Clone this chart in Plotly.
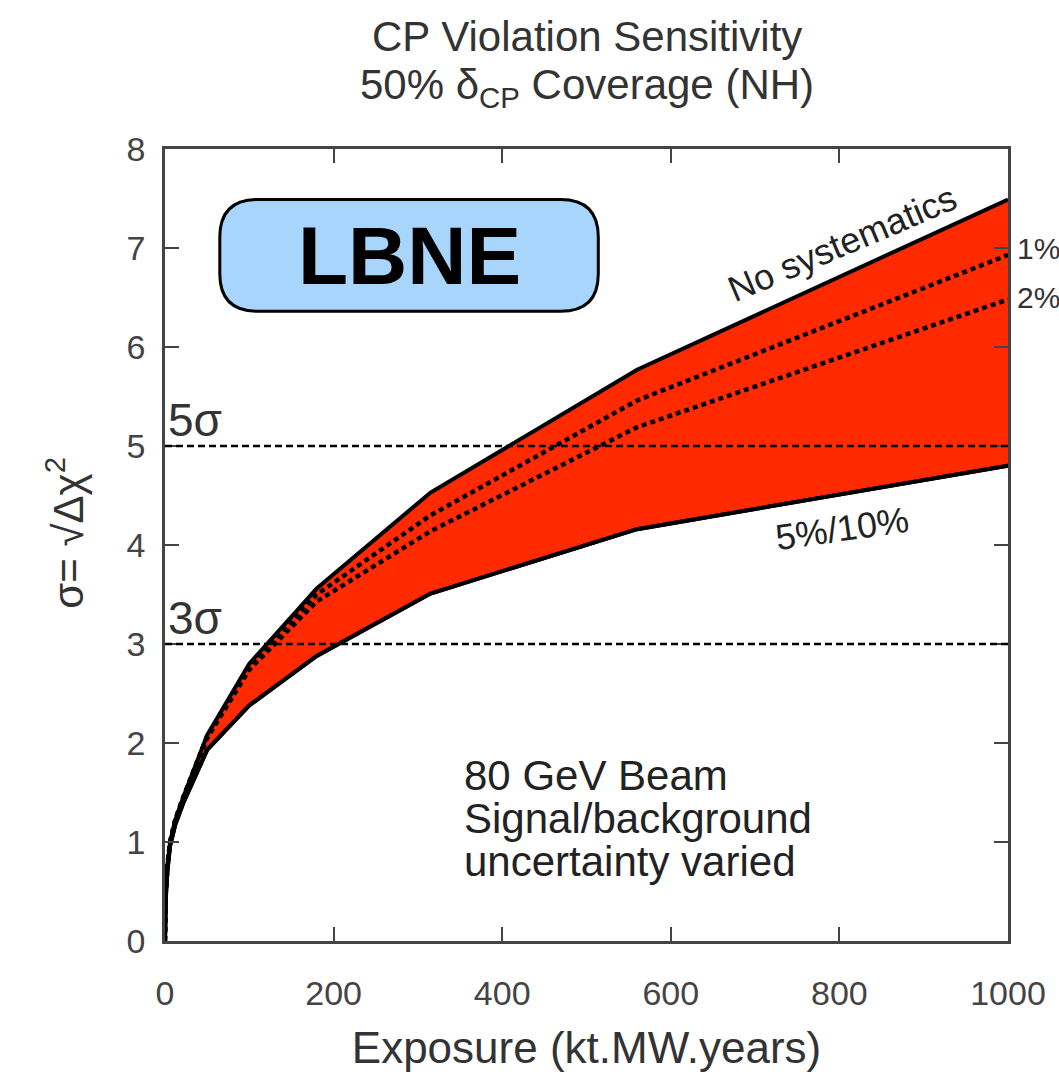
import plotly.graph_objects as go

# ---- data ----
exposure = [0, 1, 3, 6, 12, 22, 50, 100, 180, 315, 560, 1000]
no_syst = [0, 0.5, 0.78, 1.0, 1.22, 1.46, 2.08, 2.80, 3.56, 4.53, 5.77, 7.49]
syst_1pct = [0, 0.5, 0.78, 1.0, 1.22, 1.46, 2.07, 2.78, 3.50, 4.30, 5.46, 6.93]
syst_2pct = [0, 0.5, 0.78, 1.0, 1.22, 1.46, 2.05, 2.74, 3.43, 4.14, 5.19, 6.48]
syst_5_10 = [0, 0.45, 0.72, 0.96, 1.17, 1.40, 1.93, 2.38, 2.88, 3.51, 4.16, 4.80]
sigma_levels = [3, 5]
sigma_labels = ["3σ", "5σ"]
x_ticks = [0, 200, 400, 600, 800, 1000]
y_ticks = [0, 1, 2, 3, 4, 5, 6, 7, 8]
title_lines = ["CP Violation Sensitivity", "50% δ<sub>CP</sub> Coverage (NH)"]
info_lines = ["80 GeV Beam", "Signal/background", "uncertainty varied"]

RED = "#ff2a00"
FONT = "Liberation Sans, Arial, Helvetica, sans-serif"

fig = go.Figure()

fig.add_trace(go.Scatter(x=exposure, y=syst_5_10, mode="lines",
                         line=dict(color="black", width=4), showlegend=False,
                         hoverinfo="skip"))
fig.add_trace(go.Scatter(x=exposure, y=no_syst, mode="lines", fill="tonexty",
                         fillcolor=RED, line=dict(color="black", width=4),
                         showlegend=False, hoverinfo="skip"))
fig.add_trace(go.Scatter(x=exposure, y=syst_5_10, mode="lines",
                         line=dict(color="black", width=4), showlegend=False,
                         hoverinfo="skip"))
for ys in (syst_1pct, syst_2pct):
    fig.add_trace(go.Scatter(x=exposure, y=ys, mode="lines",
                             line=dict(color="black", width=4.5, dash="5px,4px"),
                             showlegend=False, hoverinfo="skip"))

shapes = []
for lv in sigma_levels:
    shapes.append(dict(type="line", xref="paper", x0=0, x1=1, yref="y", y0=lv, y1=lv,
                       line=dict(color="black", width=2.5, dash="7px,4px"), layer="above"))

# rounded LBNE box
x0, x1, y0, y1 = 65, 514, 6.36, 7.49
rx, ry = 45, 0.38
path = (f"M {x0+rx},{y0} L {x1-rx},{y0} Q {x1},{y0} {x1},{y0+ry} "
        f"L {x1},{y1-ry} Q {x1},{y1} {x1-rx},{y1} L {x0+rx},{y1} "
        f"Q {x0},{y1} {x0},{y1-ry} L {x0},{y0+ry} Q {x0},{y0} {x0+rx},{y0} Z")
shapes.append(dict(type="path", path=path, xref="x", yref="y",
                   fillcolor="#a8d5fb", line=dict(color="black", width=3), layer="above"))

annotations = [
    dict(text="σ= √Δχ<sup>2</sup>", xref="paper", yref="paper", x=-0.118, y=0.515,
         textangle=-90, showarrow=False, xanchor="center", yanchor="middle",
         font=dict(family=FONT, size=42, color="#333333")),
    dict(text="<b>LBNE</b>", xref="x", yref="y", x=(x0 + x1) / 2, y=(y0 + y1) / 2,
         showarrow=False, font=dict(family=FONT, size=82, color="black")),
    dict(text="No systematics", xref="x", yref="y", x=803, y=7.05, textangle=-23,
         showarrow=False, font=dict(family=FONT, size=36, color="#222222")),
    dict(text="5%/10%", xref="x", yref="y", x=803, y=4.17, textangle=-8,
         showarrow=False, font=dict(family=FONT, size=36, color="#222222")),
    dict(text="1%", xref="paper", yref="y", x=1.008, y=7.0, xanchor="left",
         showarrow=False, font=dict(family=FONT, size=30, color="#333333")),
    dict(text="2%", xref="paper", yref="y", x=1.008, y=6.5, xanchor="left",
         showarrow=False, font=dict(family=FONT, size=30, color="#333333")),
]
for i, line in enumerate(title_lines):
    py = 36 + 51 * i
    annotations.append(dict(text=line, xref="paper", yref="paper", x=0.5,
                            y=(943 - py) / 794, xanchor="center", yanchor="middle",
                            showarrow=False, font=dict(family=FONT, size=42, color="#333333")))
for i, line in enumerate(info_lines):
    py = 777 + 43 * i
    annotations.append(dict(text=line, xref="x", yref="y", x=352, y=(943 - py) / 99.2,
                            xanchor="left", yanchor="middle", showarrow=False,
                            font=dict(family=FONT, size=42, color="#222222")))
for lv, lab in zip(sigma_levels, sigma_labels):
    annotations.append(dict(text=lab, xref="x", yref="y", x=1, y=lv, xanchor="left",
                            yanchor="bottom", showarrow=False, yshift=-2,
                            font=dict(family=FONT, size=46, color="#333333")))

fig.update_layout(
    width=1059, height=1076,
    margin=dict(l=165, r=51, t=149, b=133),
    paper_bgcolor="white", plot_bgcolor="white",
    shapes=shapes, annotations=annotations,
    font=dict(family=FONT, color="#444444"),
)
fig.update_xaxes(range=[0, 1000], tickvals=x_ticks, ticks="inside", ticklen=14, tickwidth=2,
                 tickcolor="#444444", showline=True, linecolor="#444444", linewidth=2.5,
                 mirror="ticks", showgrid=False, zeroline=False, ticklabelstandoff=20,
                 tickfont=dict(family=FONT, size=34, color="#444444"),
                 title=dict(text="Exposure (kt.MW.years)", standoff=22,
                            font=dict(family=FONT, size=44, color="#333333")))
fig.update_yaxes(range=[0, 8], tickvals=y_ticks, ticks="inside", ticklen=14, tickwidth=2,
                 tickcolor="#444444", showline=True, linecolor="#444444", linewidth=2.5,
                 mirror="ticks", showgrid=False, zeroline=False, ticklabelstandoff=10,
                 tickfont=dict(family=FONT, size=34, color="#444444"))

fig.write_html("out.html")
